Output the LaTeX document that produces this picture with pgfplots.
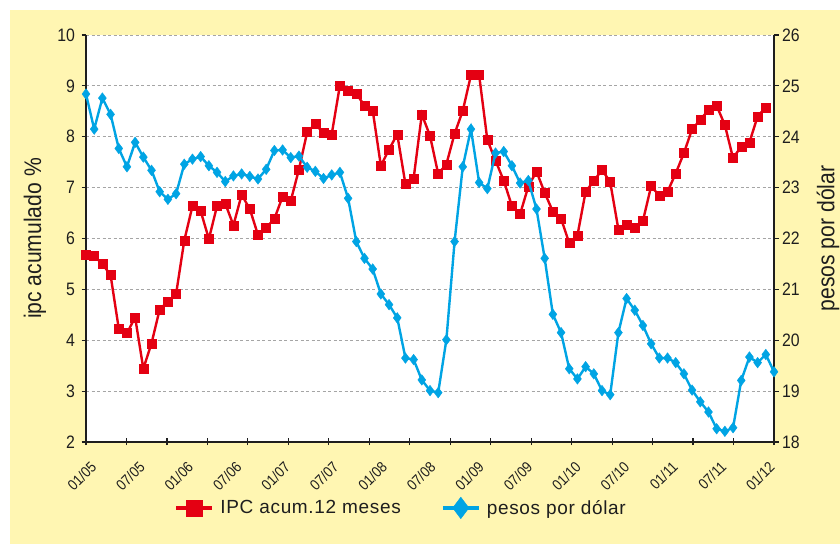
\documentclass[border=0pt]{standalone}
\usepackage{pgfplots}
\pgfplotsset{compat=1.18}
\usepackage{pgfplotstable}
\usepackage{fontspec}
\setmainfont{Liberation Sans}
\newfontfamily\condfont[FakeStretch=0.88]{Liberation Sans}
\newfontfamily\legfont[LetterSpace=3.5]{Liberation Sans}
\definecolor{bgyellow}{RGB}{255,246,178}
\definecolor{ipcred}{RGB}{228,0,18}
\definecolor{usdblue}{RGB}{0,164,228}
\definecolor{txt}{RGB}{30,30,30}
\definecolor{gridgray}{RGB}{165,165,165}

\pgfplotstableread{
i v
0 5.69
1 5.66
2 5.50
3 5.28
4 4.23
5 4.14
6 4.45
7 3.44
8 3.94
9 4.61
10 4.76
11 4.91
12 5.96
13 6.64
14 6.54
15 5.99
16 6.64
17 6.69
18 6.26
19 6.86
20 6.58
21 6.07
22 6.21
23 6.39
24 6.82
25 6.74
26 7.36
27 8.09
28 8.25
29 8.07
30 8.05
31 9.01
32 8.90
33 8.85
34 8.61
35 8.52
36 7.43
37 7.75
38 8.05
39 7.07
40 7.18
41 8.44
42 8.02
43 7.27
44 7.46
45 8.06
46 8.51
47 9.21
48 9.21
49 7.94
50 7.53
51 7.14
52 6.64
53 6.48
54 7.02
55 7.32
56 6.90
57 6.53
58 6.39
59 5.91
60 6.06
61 6.92
62 7.13
63 7.35
64 7.11
65 6.18
66 6.27
67 6.22
68 6.35
69 7.03
70 6.84
71 6.92
72 7.28
73 7.68
74 8.15
75 8.33
76 8.53
77 8.61
78 8.23
79 7.58
80 7.81
81 7.89
82 8.40
83 8.58
}\ipc

\pgfplotstableread{
i v
0 24.84
1 24.15
2 24.76
3 24.44
4 23.77
5 23.41
6 23.89
7 23.60
8 23.34
9 22.92
10 22.77
11 22.88
12 23.46
13 23.56
14 23.61
15 23.43
16 23.30
17 23.12
18 23.23
19 23.27
20 23.22
21 23.17
22 23.36
23 23.73
24 23.74
25 23.59
26 23.62
27 23.40
28 23.32
29 23.18
30 23.25
31 23.30
32 22.79
33 21.94
34 21.61
35 21.40
36 20.91
37 20.70
38 20.44
39 19.65
40 19.62
41 19.22
42 19.01
43 18.97
44 20.01
45 21.94
46 23.41
47 24.15
48 23.10
49 22.98
50 23.68
51 23.71
52 23.43
53 23.09
54 23.14
55 22.58
56 21.61
57 20.51
58 20.15
59 19.44
60 19.24
61 19.48
62 19.34
63 19.01
64 18.93
65 20.15
66 20.82
67 20.59
68 20.29
69 19.93
70 19.65
71 19.65
72 19.56
73 19.34
74 19.02
75 18.79
76 18.59
77 18.26
78 18.21
79 18.28
80 19.21
81 19.67
82 19.56
83 19.72
84 19.38
}\usd

\pgfplotsset{
  common/.style={
    at={(86pt,102pt)}, anchor=south west,
    width=688pt, height=407pt, scale only axis,
    xmin=0, xmax=84,
    /pgf/number format/assume math mode=true,
    tick align=outside,
    major tick length=4.5pt,
    minor tick length=7.5pt,
    every tick/.style={txt, line width=1.2pt},
    axis line style={-, line width=1.5pt, txt},
    yticklabel style={font=\condfont\fontsize{18}{18}\selectfont, text=txt},
    every axis y label/.style={rotate=90, anchor=center, font=\condfont\fontsize{24}{24}\selectfont, text=txt},
  },
}

\begin{document}
\begin{tikzpicture}
\useasboundingbox (0pt,0pt) rectangle (840pt,544pt);
\fill[white] (0pt,0pt) rectangle (840pt,544pt);
\fill[bgyellow] (10pt,0pt) rectangle (840pt,534pt);

\begin{axis}[
  common,
  ymin=2, ymax=10, ytick={2,3,...,10},
  axis x line*=bottom, axis y line*=left,
  axis background/.style={fill=white},
  ymajorgrids,
  major grid style={gridgray, dashed, line width=0.9pt, dash pattern=on 3pt off 2.5pt},
  yticklabel style={xshift=-3pt},
  xtick={1.013,6.930,12.846,18.763,24.680,30.596,36.513,42.430,48.346,54.263,60.179,66.096,72.013,77.929,83.846},
  xticklabels={01/05,07/05,01/06,07/06,01/07,07/07,01/08,07/08,01/09,07/09,01/10,07/10,01/11,07/11,01/12},
  major x tick style={draw=none},
  minor xtick={0,4.9412,9.8824,14.8235,19.7647,24.7059,29.6471,34.5882,39.5294,44.4706,49.4118,54.3529,59.2941,64.2353,69.1765,74.1176,79.0588,84},
  minor x tick style={yshift=4.5pt},
  xticklabel style={rotate=45, anchor=east, inner sep=0pt, font=\condfont\fontsize{15}{15}\selectfont, text=txt, xshift=-13pt, yshift=-12pt},
  ylabel={ipc acumulado \%},
  ylabel style={at={(axis description cs:-0.0741,0.5)}},
]
\addplot[ipcred, line width=2.4pt, mark=square*, mark size=4.5pt, mark options={solid, line width=0.4pt}] table[x=i, y=v] {\ipc};
\end{axis}

\begin{axis}[
  common,
  ymin=18, ymax=26, ytick={18,19,...,26},
  axis x line=none, axis y line*=right,
  ylabel={pesos por dólar},
  ylabel style={at={(axis description cs:1.0785,0.5)}},
  legend columns=2,
  legend style={at={(axis description cs:0.458,-0.162)}, anchor=center, draw=none, fill=none,
    font=\legfont\fontsize{19}{19}\selectfont, text=txt,
    /tikz/every odd column/.append style={column sep=4pt},
    /tikz/every even column/.append style={column sep=38pt}},
  legend image code/.code={\draw[#1, mark repeat=2, mark phase=2] plot coordinates {(0pt,0pt) (18pt,0pt) (36pt,0pt)};},
]
\addlegendimage{ipcred, line width=4pt, mark=square*, mark size=7.8pt, mark options={solid, line width=0.4pt}}
\addlegendentry{IPC acum.12 meses}
\addlegendimage{usdblue, line width=4pt, mark=diamond*, mark size=10.8pt, mark options={solid, line width=0.4pt}}
\addlegendentry{pesos por dólar}
\addplot[usdblue, line width=2.4pt, mark=diamond*, mark size=5.3pt, mark options={solid, line width=0.4pt}, forget plot] table[x=i, y=v] {\usd};
\end{axis}
\end{tikzpicture}
\end{document}
